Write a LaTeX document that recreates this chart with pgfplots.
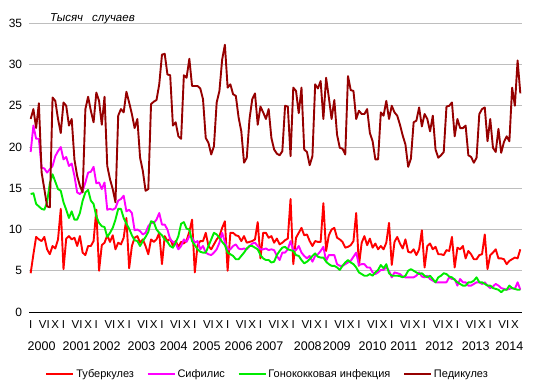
\documentclass[border=0pt]{standalone}
\usepackage{pgfplots}
\usepackage{pgfplotstable}
\pgfplotsset{compat=1.18}
\usepackage{fontspec}
\setmainfont{Liberation Sans}
\definecolor{tubc}{RGB}{255,0,0}
\definecolor{sifc}{RGB}{255,0,255}
\definecolor{gonc}{RGB}{0,235,0}
\definecolor{pedc}{RGB}{150,0,0}
\definecolor{gridc}{RGB}{190,190,190}
\pgfplotstableread{
x t s g p
0 4.7 19.4 14.3 23.4
1 7.0 22.6 14.4 24.6
2 9.1 21.0 13.1 22.3
3 8.8 21.0 12.8 25.3
4 8.6 17.5 12.5 16.9
5 9.1 17.4 12.4 14.9
6 7.6 16.9 13.3 12.8
7 7.0 17.3 15.6 12.7
8 8.0 17.7 16.7 26.0
9 7.7 18.9 15.8 25.6
10 8.8 19.5 14.9 23.4
11 12.5 20.0 14.7 21.7
12 5.2 18.5 13.3 25.4
13 8.9 18.8 12.4 25.0
14 9.2 17.7 11.4 22.6
15 8.8 18.0 12.2 23.4
16 9.0 16.5 11.2 18.5
17 8.0 14.5 11.2 16.5
18 9.2 14.3 12.0 15.3
19 7.2 14.7 13.5 14.5
20 6.9 15.7 14.5 24.6
21 8.0 16.9 14.8 26.1
22 8.0 17.0 13.5 24.4
23 8.6 17.6 13.1 23.0
24 12.4 15.6 11.6 26.6
25 5.0 15.7 10.8 25.6
26 8.1 14.9 10.4 22.7
27 8.4 15.7 10.3 26.1
28 9.3 12.4 9.1 17.7
29 8.5 12.5 9.6 16.1
30 9.3 12.4 10.2 14.9
31 7.6 12.6 11.2 13.3
32 8.4 13.5 12.5 23.8
33 8.2 13.7 12.5 24.6
34 9.0 14.1 11.4 24.2
35 11.4 12.2 10.7 26.7
36 5.3 12.4 10.1 25.4
37 8.0 12.0 9.3 24.0
38 9.0 9.9 8.7 22.3
39 9.2 10.0 8.6 23.4
40 8.4 9.8 8.0 18.7
41 8.8 9.4 8.6 17.1
42 8.0 9.6 9.1 14.7
43 7.0 10.4 9.7 14.9
44 8.8 10.8 11.0 25.2
45 8.5 10.8 10.9 25.5
46 8.8 11.2 10.0 25.7
47 9.6 12.0 9.6 27.6
48 5.8 10.6 9.3 31.2
49 9.2 10.6 8.8 31.3
50 8.6 10.0 8.5 28.8
51 8.9 8.8 8.0 28.7
52 8.0 8.5 7.8 22.6
53 8.6 8.3 8.4 23.0
54 7.9 7.6 9.2 21.3
55 8.5 8.0 10.7 21.0
56 8.3 8.8 10.9 28.7
57 8.7 8.5 10.1 28.4
58 9.7 9.2 10.0 30.7
59 11.2 9.0 8.6 27.4
60 4.8 8.4 8.1 27.4
61 8.1 8.6 7.6 27.4
62 8.6 7.6 7.3 27.1
63 8.6 8.0 7.2 25.8
64 9.6 7.2 7.2 21.1
65 8.0 7.0 8.0 20.5
66 7.6 6.9 8.8 19.1
67 8.2 7.2 9.6 20.1
68 8.8 7.6 9.4 25.4
69 9.2 8.4 9.0 26.8
70 10.2 9.6 8.5 30.6
71 11.0 8.5 8.1 32.4
72 5.0 7.6 7.2 27.2
73 9.6 7.6 7.0 27.6
74 9.6 8.0 6.8 26.4
75 9.3 8.2 6.4 26.2
76 9.2 7.7 6.4 23.6
77 8.6 7.6 6.8 21.9
78 9.2 7.7 7.2 18.1
79 8.4 7.6 7.7 18.7
80 8.5 8.0 8.0 23.4
81 8.6 8.3 8.0 25.8
82 8.8 8.4 7.8 26.5
83 10.9 8.0 7.6 22.7
84 6.5 7.6 6.9 24.9
85 9.6 7.6 6.5 24.2
86 9.6 7.7 6.3 23.4
87 9.0 7.5 6.3 24.6
88 9.2 7.6 6.0 21.1
89 8.4 7.5 6.1 19.7
90 8.9 6.8 6.9 19.2
91 8.2 6.3 7.4 19.0
92 8.4 7.2 7.8 19.5
93 8.7 7.2 7.9 25.0
94 8.9 7.6 7.6 24.9
95 13.7 8.6 7.5 18.9
96 5.8 7.5 7.4 27.2
97 9.0 7.5 6.9 26.8
98 9.6 8.0 6.8 24.1
99 10.2 7.2 6.3 27.2
100 9.3 6.8 5.9 19.7
101 9.4 6.5 6.1 19.4
102 8.6 6.8 6.4 17.8
103 8.0 6.1 6.8 18.9
104 8.6 6.8 7.1 27.6
105 8.5 7.0 6.7 27.1
106 8.5 7.4 6.6 28.0
107 13.2 7.9 6.6 23.4
108 7.4 6.2 6.1 28.4
109 9.3 6.9 5.8 26.0
110 10.0 6.9 5.6 23.4
111 10.2 6.9 5.6 25.7
112 9.0 5.8 5.4 21.5
113 8.8 5.6 5.1 19.9
114 8.5 5.6 5.6 19.8
115 7.8 5.8 6.0 19.1
116 7.9 6.0 6.3 28.6
117 8.1 6.2 6.0 26.9
118 8.6 6.7 5.8 26.8
119 12.0 7.2 5.4 23.4
120 5.6 5.7 4.8 24.4
121 8.4 5.8 4.6 24.0
122 9.2 5.8 4.4 24.0
123 8.1 5.4 4.4 24.6
124 8.9 5.4 4.6 21.7
125 7.8 4.8 4.4 20.7
126 8.3 4.6 4.8 18.5
127 7.6 4.8 5.1 18.5
128 8.0 5.1 5.7 24.2
129 7.6 5.1 5.3 23.8
130 8.4 5.4 5.8 25.6
131 10.8 5.0 4.7 23.4
132 5.7 4.2 4.4 25.0
133 8.5 4.8 4.4 24.2
134 9.1 4.7 4.4 23.8
135 8.3 4.6 4.35 22.7
136 7.7 4.3 4.2 21.4
137 8.8 4.2 4.4 20.3
138 7.3 4.2 5.0 17.6
139 7.2 4.2 5.2 18.6
140 7.6 4.2 5.0 23.0
141 6.9 4.4 4.8 23.2
142 7.6 4.8 4.6 24.8
143 9.9 4.3 4.7 22.5
144 5.4 4.2 4.4 24.0
145 8.0 4.4 4.2 23.4
146 8.3 4.0 4.4 21.9
147 7.6 3.8 4.0 23.8
148 7.9 3.6 3.6 19.7
149 7.0 3.6 4.2 18.7
150 7.0 3.6 4.4 19.0
151 6.9 3.6 4.7 19.4
152 7.5 3.6 4.6 24.9
153 7.4 4.2 4.3 25.0
154 9.1 4.0 4.2 25.4
155 5.4 4.0 3.9 21.3
156 7.8 3.2 3.6 23.4
157 7.6 4.0 3.4 22.3
158 8.0 3.6 3.2 22.3
159 6.5 3.6 3.2 22.6
160 7.4 3.2 3.6 19.0
161 7.0 3.2 3.6 18.8
162 6.4 3.4 3.8 18.1
163 6.4 3.6 4.2 18.7
164 6.9 3.6 3.6 24.0
165 7.0 3.4 3.6 24.6
166 9.4 3.6 3.4 24.8
167 5.2 3.2 3.2 20.7
168 6.9 2.9 3.2 23.4
169 7.2 3.1 2.9 19.9
170 7.6 3.4 2.8 19.4
171 6.5 3.2 2.7 22.2
172 6.5 2.9 2.4 19.3
173 6.4 2.8 2.7 20.6
174 5.8 2.7 2.7 21.3
175 6.2 2.8 3.2 20.7
176 6.4 2.9 2.9 27.2
177 6.6 2.8 2.8 25.0
178 6.5 3.6 2.7 30.5
179 7.6 2.7 2.7 26.5
}\datatable
\begin{document}
\begin{tikzpicture}
\path[use as bounding box] (-29.3bp,-77bp) rectangle (506.7bp,312bp);
\begin{axis}[
  at={(0,0)}, anchor=south west,
  scale only axis, width=492.4bp, height=288.7bp,
  xmin=-0.5, xmax=179.5, ymin=0, ymax=35,
  axis lines*=left,
  y axis line style={draw=none},
  x axis line style={black, line width=0.9bp},
  major tick length=0pt,
  ytick={0,5,...,35},
  ymajorgrids, grid style={gridc, line width=0.9bp},
  /pgf/number format/assume math mode=true,
  yticklabel style={font=\fontsize{12bp}{14bp}\selectfont, inner sep=0pt, xshift=-7bp, anchor=east},
  xtick={0,5,9,12,17,21,24,29,33,36,41,45,48,53,57,60,65,69,72,77,81,84,89,93,96,101,105,108,113,117,120,125,129,132,137,141,144,149,153,156,161,165,168,173,177},
  xticklabels={I,VI,X,I,VI,X,I,VI,X,I,VI,X,I,VI,X,I,VI,X,I,VI,X,I,VI,X,I,VI,X,I,VI,X,I,VI,X,I,VI,X,I,VI,X,I,VI,X,I,VI,X},
  xticklabel style={font=\fontsize{11.5bp}{13bp}\selectfont, inner sep=0pt, anchor=north, yshift=-8bp},
  extra x ticks={4.0,16.8,27.8,40.5,52.3,64.3,76.0,87.3,101.3,111.9,125,136.4,149.4,162.7,175},
  extra x tick labels={2000,2001,2002,2003,2004,2005,2006,2007,2008,2009,2010,2011,2012,2013,2014},
  extra x tick style={grid=none, xticklabel style={font=\fontsize{12.5bp}{14bp}\selectfont, yshift=-22bp}},
  title={\itshape Тысяч\hspace{9bp}случаев},
  title style={at={(0.042,1)}, anchor=west, inner sep=0pt, yshift=-1.5bp, font=\fontsize{11.5bp}{13bp}\selectfont},
  legend columns=4,
  legend style={at={(0.484,-0.215)}, anchor=center, draw=none, fill=none,
    font=\fontsize{11bp}{13bp}\selectfont, inner sep=0pt,
    /tikz/every even column/.append style={column sep=10.7bp}},
  legend image code/.code={\draw[#1] (0bp,0bp) -- (27bp,0bp);},
  every axis plot/.append style={line width=1.9bp, line join=round},
]
\addplot[tubc, mark=none] table[x=x, y=t] {\datatable};
\addlegendentry{Туберкулез}
\addplot[sifc, mark=none] table[x=x, y=s] {\datatable};
\addlegendentry{Сифилис}
\addplot[gonc, mark=none] table[x=x, y=g] {\datatable};
\addlegendentry{Гонококковая инфекция}
\addplot[pedc, mark=none] table[x=x, y=p] {\datatable};
\addlegendentry{Педикулез}
\end{axis}
\end{tikzpicture}
\end{document}
